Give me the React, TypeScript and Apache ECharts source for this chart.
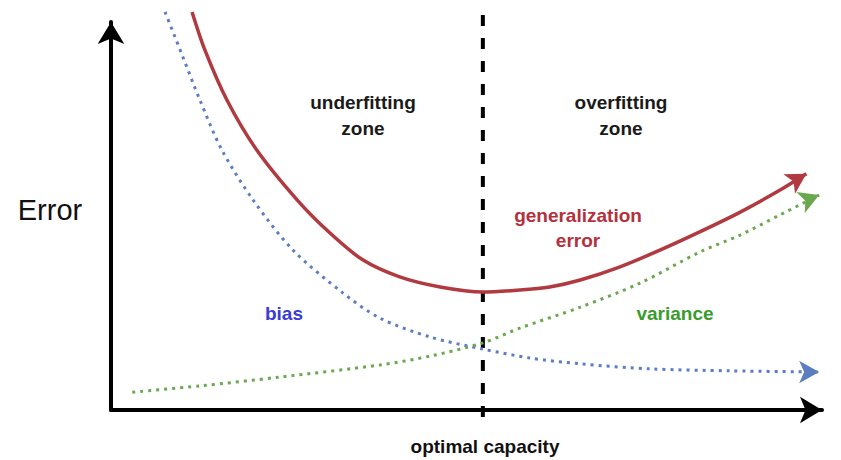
import React, { useEffect, useRef } from "react";
import * as echarts from "echarts";

// Values on a 0–100 capacity scale (x) and 0–100 error scale (y)
const errorX = [11.4, 13.2, 16.3, 20.5, 26.2, 30.8, 35.4, 40.6, 46.3, 52.3, 57.5, 61.7, 66.0, 71.6, 77.2, 82.8, 88.5, 94.1, 97.8];
const errorY = [102.6, 92.8, 79.9, 67.0, 54.1, 45.6, 38.7, 34.3, 31.7, 30.4, 30.9, 31.7, 33.5, 36.9, 41.2, 45.9, 51.0, 56.7, 60.9];

const biasX = [7.6, 10.0, 12.5, 15.6, 20.0, 25.6, 32.6, 37.8, 44.9, 52.3, 58.9, 66.0, 75.8, 87.1, 99.6];
const biasY = [102.6, 91.5, 79.9, 67.0, 54.1, 41.2, 30.2, 23.7, 18.8, 15.7, 13.4, 11.9, 10.6, 10.1, 9.8];

const varianceX = [3.0, 12.5, 23.8, 37.8, 44.9, 52.3, 57.5, 66.0, 74.4, 82.8, 88.5, 94.1, 99.6];
const varianceY = [4.6, 6.2, 8.5, 11.6, 13.9, 17.3, 21.1, 26.5, 32.7, 40.7, 45.1, 50.3, 55.4];

const optimalCapacity = 52.3;
const dividerY = [-1.8, 101.8];

const FONT = '"Liberation Sans", Arial, sans-serif';

function withArrow(xs: number[], ys: number[], rotate: number, color: string) {
  return xs.map((x, i) => {
    if (i === xs.length - 1) {
      return {
        value: [x, ys[i]],
        symbol: "arrow",
        symbolSize: [17, 20],
        symbolRotate: rotate,
        itemStyle: { color, borderWidth: 0 },
      };
    }
    return { value: [x, ys[i]], symbol: "none" };
  });
}

export default function App() {
  const ref = useRef<HTMLDivElement>(null);
  useEffect(() => {
    if (!ref.current) return;
    const chart = echarts.init(ref.current, null, { renderer: "svg" });
    const red = "#b13a40";
    const blue = "#5b7ec2";
    const green = "#6aa84f";
    chart.setOption({
      animation: false,
      backgroundColor: "#ffffff",
      grid: { left: 111, right: 19, top: 22, bottom: 50 },
      xAxis: {
        type: "value",
        min: 0,
        max: 100,
        axisLine: {
          show: true,
          onZero: false,
          symbol: ["none", "arrow"],
          symbolSize: [20, 22],
          lineStyle: { color: "#000", width: 4 },
        },
        axisTick: { show: false },
        axisLabel: { show: false },
        splitLine: { show: false },
      },
      yAxis: {
        type: "value",
        min: 0,
        max: 100,
        axisLine: {
          show: true,
          onZero: false,
          symbol: ["none", "arrow"],
          symbolSize: [20, 22],
          lineStyle: { color: "#000", width: 4 },
        },
        axisTick: { show: false },
        axisLabel: { show: false },
        splitLine: { show: false },
      },
      series: [
        {
          name: "optimal",
          type: "line",
          clip: false,
          symbol: "none",
          data: dividerY.map((y) => [optimalCapacity, y]),
          lineStyle: { color: "#000", width: 4, type: [11, 12] },
          z: 1,
        },
        {
          name: "bias",
          type: "line",
          clip: false,
          smooth: 0.3,
          showSymbol: true,
          data: withArrow(biasX, biasY, -90, blue),
          lineStyle: { color: blue, width: 3, type: [3, 5], cap: "butt" },
          itemStyle: { color: blue },
          z: 2,
        },
        {
          name: "variance",
          type: "line",
          clip: false,
          smooth: 0.3,
          showSymbol: true,
          data: withArrow(varianceX, varianceY, -68, green),
          lineStyle: { color: green, width: 3, type: [3, 5], cap: "butt" },
          itemStyle: { color: green },
          z: 2,
        },
        {
          name: "generalization error",
          type: "line",
          clip: false,
          smooth: 0.3,
          showSymbol: true,
          data: withArrow(errorX, errorY, -59, red),
          lineStyle: { color: red, width: 3.5 },
          itemStyle: { color: red },
          z: 3,
        },
      ],
      graphic: [
        {
          type: "text",
          x: 50,
          y: 210,
          style: { text: "Error", font: `normal 29px ${FONT}`, fill: "#111", align: "center", verticalAlign: "middle" },
        },
        {
          type: "text",
          x: 363,
          y: 115,
          style: { text: "underfitting\nzone", font: `bold 19px ${FONT}`, lineHeight: 26, fill: "#1a1a1a", align: "center", verticalAlign: "middle" },
        },
        {
          type: "text",
          x: 621,
          y: 115,
          style: { text: "overfitting\nzone", font: `bold 19px ${FONT}`, lineHeight: 26, fill: "#1a1a1a", align: "center", verticalAlign: "middle" },
        },
        {
          type: "text",
          x: 578,
          y: 228,
          style: { text: "generalization\nerror", font: `bold 19px ${FONT}`, lineHeight: 25, fill: "#b5303d", align: "center", verticalAlign: "middle" },
        },
        {
          type: "text",
          x: 284,
          y: 313,
          style: { text: "bias", font: `bold 19px ${FONT}`, fill: "#3b3bd8", align: "center", verticalAlign: "middle" },
        },
        {
          type: "text",
          x: 675,
          y: 313,
          style: { text: "variance", font: `bold 19px ${FONT}`, fill: "#3a9c2c", align: "center", verticalAlign: "middle" },
        },
        {
          type: "text",
          x: 485,
          y: 446,
          style: { text: "optimal capacity", font: `bold 19px ${FONT}`, fill: "#111", align: "center", verticalAlign: "middle" },
        },
      ],
    });
    return () => chart.dispose();
  }, []);
  return <div ref={ref} style={{ position: "absolute", left: 0, top: 0, width: 841, height: 460 }} />;
}
